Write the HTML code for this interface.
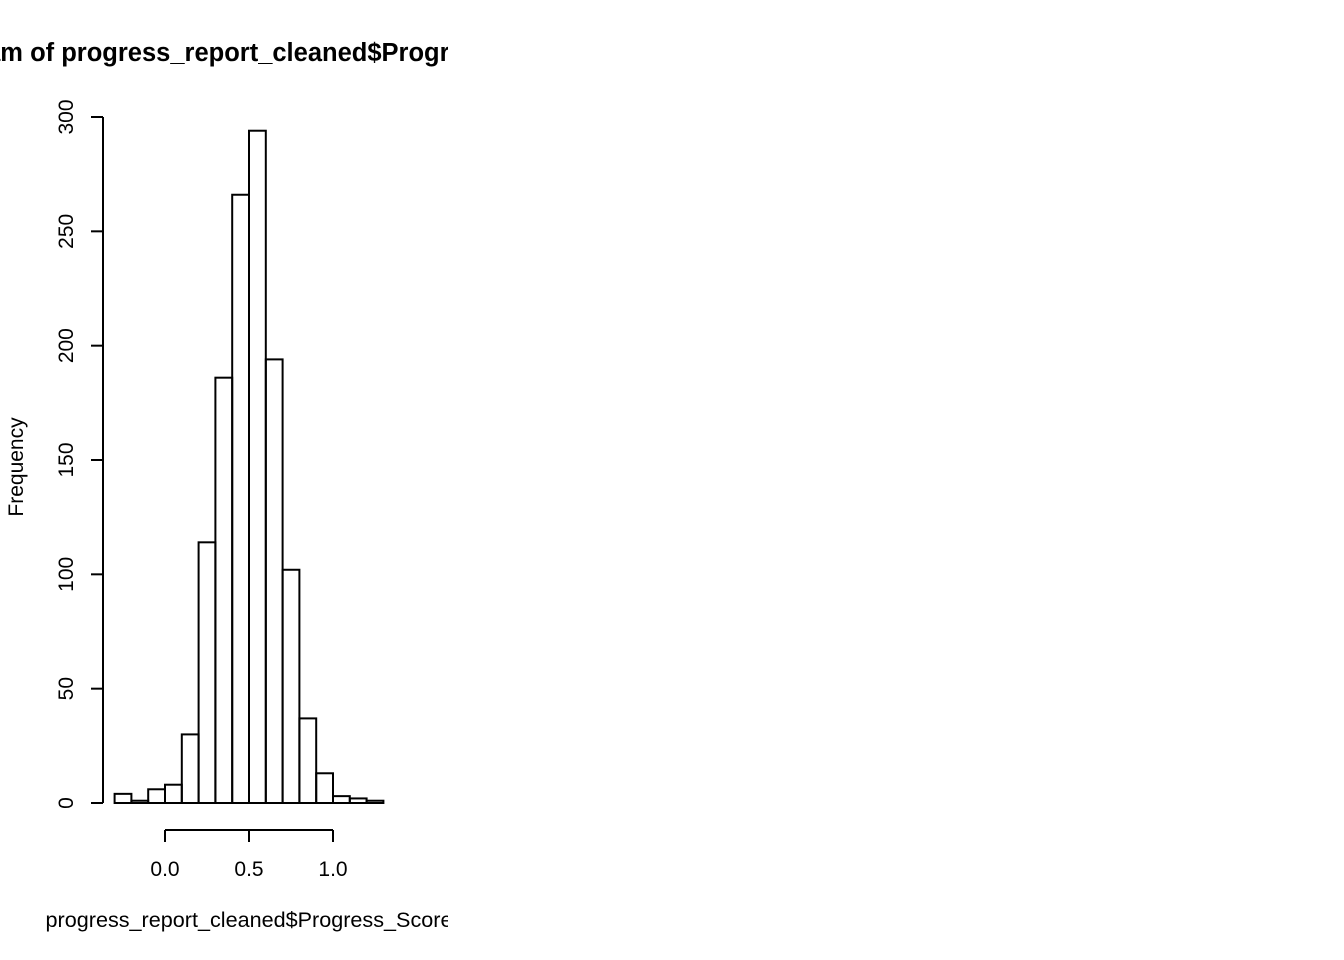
<!DOCTYPE html>
<html><head><meta charset="utf-8"><style>
html,body{margin:0;padding:0;background:#fff;}
svg{display:block;font-family:"Liberation Sans",sans-serif;}
</style></head><body>
<svg id="chart" width="1344" height="960">
<defs><clipPath id="clip"><rect x="0" y="0" width="448" height="960"/></clipPath></defs>
<g clip-path="url(#clip)">
<text x="237" y="61" text-anchor="middle" font-weight="bold" font-size="25.5">Histogram of progress_report_cleaned$Progress_Score</text>
<text x="249" y="927" text-anchor="middle" font-size="21.6">progress_report_cleaned$Progress_Score</text>
<g id="bars"></g>
</g>
<text transform="translate(23,467) rotate(-90)" text-anchor="middle" font-size="21">Frequency</text>
<g id="axes"></g>
</svg>
<script>
const binStarts = [-0.3,-0.2,-0.1,0,0.1,0.2,0.3,0.4,0.5,0.6,0.7,0.8,0.9,1.0,1.1,1.2];
const counts = [4,1,6,8,30,114,186,266,294,194,102,37,13,3,2,1];
const binWidth = 0.1;
const xTicks = [0,0.5,1.0];
const xTickLabels = ["0.0","0.5","1.0"];
const yTicks = [0,50,100,150,200,250,300];
const NS="http://www.w3.org/2000/svg";
const xs = v => 165 + v*168;
const ys = v => 803 - v*(686/300);
const bars=document.getElementById('bars');
binStarts.forEach((b,i)=>{
  const r=document.createElementNS(NS,'rect');
  r.setAttribute('x',xs(b));r.setAttribute('y',ys(counts[i]));
  r.setAttribute('width',xs(b+binWidth)-xs(b));r.setAttribute('height',ys(0)-ys(counts[i]));
  r.setAttribute('fill','none');r.setAttribute('stroke','#000');r.setAttribute('stroke-width','2');
  
  
  bars.appendChild(r);
});
const ax=document.getElementById('axes');
function line(x1,y1,x2,y2){const l=document.createElementNS(NS,'line');l.setAttribute('x1',x1);l.setAttribute('y1',y1);l.setAttribute('x2',x2);l.setAttribute('y2',y2);l.setAttribute('stroke','#000');l.setAttribute('stroke-width','2');ax.appendChild(l);return l;}
function text(x,y,s,rot){const t=document.createElementNS(NS,'text');t.setAttribute('font-size','21');t.setAttribute('text-anchor','middle');if(rot){t.setAttribute('transform','translate('+x+','+y+') rotate(-90)');}else{t.setAttribute('x',x);t.setAttribute('y',y);}t.textContent=s;ax.appendChild(t);return t;}
line(xs(xTicks[0]),830,xs(xTicks[xTicks.length-1]),830);
xTicks.forEach((v,i)=>{line(xs(v),830,xs(v),842);const t=text(xs(v),876,xTickLabels[i]);

});
line(103,ys(yTicks[0]),103,ys(yTicks[yTicks.length-1]));
yTicks.forEach(v=>{line(91,ys(v),103,ys(v));const t=text(73,ys(v),String(v),true);

});
</script>
</body></html>
